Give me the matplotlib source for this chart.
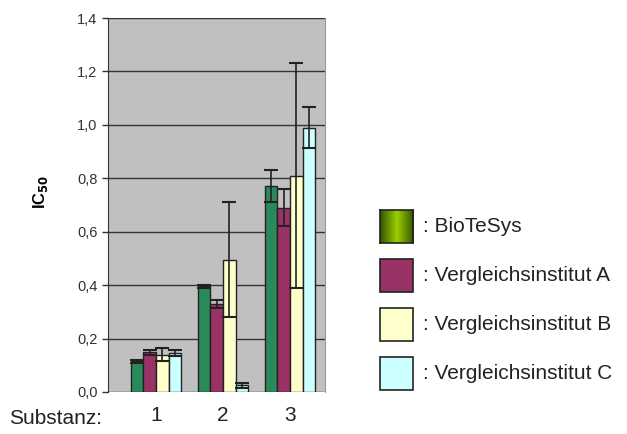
import matplotlib.pyplot as plt
import numpy as np
from matplotlib.patches import Rectangle
from matplotlib.colors import LinearSegmentedColormap

# Daten
substanzen = ['1', '2', '3']
serien = ['BioTeSys', 'Vergleichsinstitut A', 'Vergleichsinstitut B', 'Vergleichsinstitut C']
werte = [
    [0.115, 0.395, 0.770],
    [0.148, 0.330, 0.690],
    [0.140, 0.495, 0.810],
    [0.145, 0.025, 0.990],
]
fehler = [
    [0.005, 0.005, 0.060],
    [0.010, 0.015, 0.070],
    [0.025, 0.215, 0.420],
    [0.012, 0.010, 0.075],
]
farben = ['#2A8A5A', '#993366', '#FFFFCC', '#CCFFFF']

plt.rcParams['font.family'] = ['Liberation Sans', 'DejaVu Sans']

fig = plt.figure(figsize=(6.27, 4.34), dpi=100)
ax = fig.add_axes([0.172, 0.0968, 0.346, 0.8617])
ax.set_facecolor('#C0C0C0')

x = np.arange(1, len(substanzen) + 1)
breite = 0.19
for i in range(len(serien)):
    pos = x + (i - 1.5) * breite
    ax.bar(pos, werte[i], breite, color=farben[i], edgecolor='#222222', linewidth=1.0, zorder=3)
    ax.errorbar(pos, werte[i], yerr=fehler[i], fmt='none', ecolor='#222222',
                elinewidth=1.2, capsize=5, capthick=1.5, zorder=4)

ax.set_xlim(0.28, 3.52)
ax.set_ylim(0, 1.4)
yt = np.arange(0, 1.41, 0.2)
ax.set_yticks(yt)
ax.set_yticklabels([f'{v:.1f}'.replace('.', ',') for v in yt], fontsize=10.5, color='#333333')
ax.grid(axis='y', color='#333333', linewidth=1.0, zorder=1)
ax.set_xticks(x)
ax.set_xticklabels(substanzen, fontsize=15, color='#222222')
ax.tick_params(axis='x', length=0, pad=10)
ax.tick_params(axis='y', length=4, width=1, color='#333333')
for s in ['top', 'bottom']:
    ax.spines[s].set_visible(False)
ax.spines['left'].set_color('#333333')
ax.spines['right'].set_color('#999999')

fig.text(0.014, 0.022, 'Substanz:', fontsize=15, va='baseline', color='#222222')
fig.text(41 / 627, 1 - 192 / 434, r'IC$_{\mathbf{50}}$', fontsize=12, fontweight='bold',
         rotation=90, ha='center', va='center')

# Legende
lx = 380 / 627
lw = 33 / 627
lh = 33 / 434
tops = [210, 259, 308, 357]
for i, name in enumerate(serien):
    y0 = 1 - (tops[i] + 33) / 434
    if i == 0:
        gax = fig.add_axes([lx, y0, lw, lh])
        grad = np.abs(np.linspace(-1, 1, 64))
        gax.imshow(grad[None, :], aspect='auto',
                   cmap=LinearSegmentedColormap.from_list('g', ['#99CC00', '#335500']),
                   extent=[0, 1, 0, 1])
        gax.set_xticks([])
        gax.set_yticks([])
        for sp in gax.spines.values():
            sp.set_color('#222222')
            sp.set_linewidth(1.2)
    else:
        fig.patches.append(Rectangle((lx, y0), lw, lh, transform=fig.transFigure,
                                     facecolor=farben[i], edgecolor='#222222', linewidth=1.2))
    fig.text(423 / 627, y0 + lh / 2, ': ' + name, fontsize=15, va='center', color='#222222')

fig.savefig('out.png', dpi=100)
